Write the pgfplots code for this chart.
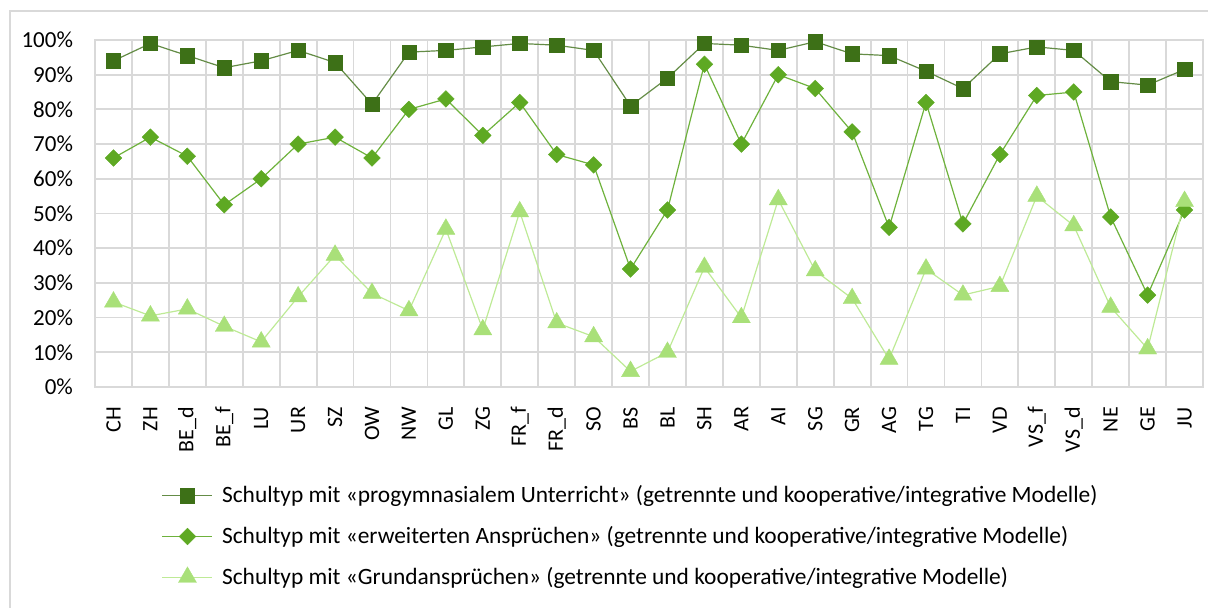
\documentclass[border=0pt]{standalone}
\usepackage{fontspec}
\setmainfont{Carlito}
\usepackage{pgfplots}
\pgfplotsset{compat=1.18}
\definecolor{cA}{RGB}{61,112,23}
\definecolor{cAl}{RGB}{100,140,70}
\definecolor{cB}{RGB}{94,169,35}
\definecolor{cBl}{RGB}{110,178,60}
\definecolor{cC}{RGB}{169,224,121}
\definecolor{cCl}{RGB}{190,234,150}
\definecolor{gridc}{RGB}{217,217,217}
\begin{document}
\begin{tikzpicture}
\useasboundingbox (0,0) rectangle (604pt,304pt);
\draw[gridc, line width=0.6pt] (5pt,0) -- (5pt,298.5pt) -- (604pt,298.5pt);
\begin{axis}[
  at={(47.5pt,110.5pt)}, anchor=south west,
  scale only axis, width=554pt, height=173.5pt,
  xmin=-0.5, xmax=29.5, ymin=0, ymax=100,
  xtick={0,...,29},
  xticklabels={CH,ZH,BE\_d,BE\_f,LU,UR,SZ,OW,NW,GL,ZG,FR\_f,FR\_d,SO,BS,BL,SH,AR,AI,SG,GR,AG,TG,TI,VD,VS\_f,VS\_d,NE,GE,JU},
  minor xtick={-0.5,0.5,...,29.5},
  xminorgrids=true, ymajorgrids=true,
  ytick={0,10,...,100},
  yticklabel={\pgfmathprintnumber{\tick}\%},
  /pgf/number format/assume math mode=true,
  grid style={gridc, line width=0.9pt},
  minor grid style={gridc, line width=0.9pt},
  axis line style={gridc, line width=0.9pt},
  major tick length=0pt, minor tick length=0pt,
  tick style={draw=none},
  xticklabel style={font=\fontsize{11}{13}\selectfont, rotate=90, anchor=east, xshift=-6.5pt},
  yticklabel style={font=\fontsize{11.5}{13}\selectfont, xshift=-7.5pt},
  clip=false,
  legend style={at={(axis description cs:0.06,-0.272)}, anchor=north west, draw=none, fill=none, font=\fontsize{11.7}{14}\selectfont, row sep=6.3pt, inner sep=0pt, cells={anchor=west},
    /tikz/every odd column/.append style={column sep=2.5pt}},
  legend cell align=left,
  legend image code/.code={\draw[mark repeat=2,mark phase=2,#1] plot coordinates {(0pt,0pt) (12.5pt,0pt) (25pt,0pt)};},
]
\addplot[cAl, line width=0.6pt, mark=square*, mark size=3.6pt, mark options={draw=cA, line width=0.2pt, fill=cA}] coordinates {
(0,94) (1,99) (2,95.5) (3,92) (4,94) (5,97) (6,93.5) (7,81.5) (8,96.5) (9,97)
(10,98) (11,99) (12,98.5) (13,97) (14,81) (15,89) (16,99) (17,98.5) (18,97) (19,99.5)
(20,96) (21,95.5) (22,91) (23,86) (24,96) (25,98) (26,97) (27,88) (28,87) (29,91.5)};
\addlegendentry{Schultyp mit «progymnasialem Unterricht» (getrennte und kooperative/integrative Modelle)}
\addplot[cBl, line width=0.6pt, mark=square*, mark size=2.95pt, mark options={draw=cB, line width=0.2pt, fill=cB, rotate=45}] coordinates {
(0,66) (1,72) (2,66.5) (3,52.5) (4,60) (5,70) (6,72) (7,66) (8,80) (9,83)
(10,72.5) (11,82) (12,67) (13,64) (14,34) (15,51) (16,93) (17,70) (18,90) (19,86)
(20,73.5) (21,46) (22,82) (23,47) (24,67) (25,84) (26,85) (27,49) (28,26.5) (29,51)};
\addlegendentry{Schultyp mit «erweiterten Ansprüchen» (getrennte und kooperative/integrative Modelle)}
\addplot[cCl, line width=0.6pt, mark=triangle*, mark size=5.2pt, mark options={draw=cC, line width=0.2pt, fill=cC}] coordinates {
(0,24.5) (1,20.5) (2,22.5) (3,17.5) (4,13) (5,26) (6,38) (7,27) (8,22) (9,45.5)
(10,16.5) (11,50.5) (12,18.5) (13,14.5) (14,4.5) (15,10) (16,34.5) (17,20) (18,54) (19,33.5)
(20,25.5) (21,8) (22,34) (23,26.5) (24,29) (25,55) (26,46.5) (27,23) (28,11) (29,53.5)};
\addlegendentry{Schultyp mit «Grundansprüchen» (getrennte und kooperative/integrative Modelle)}
\end{axis}
\end{tikzpicture}
\end{document}
